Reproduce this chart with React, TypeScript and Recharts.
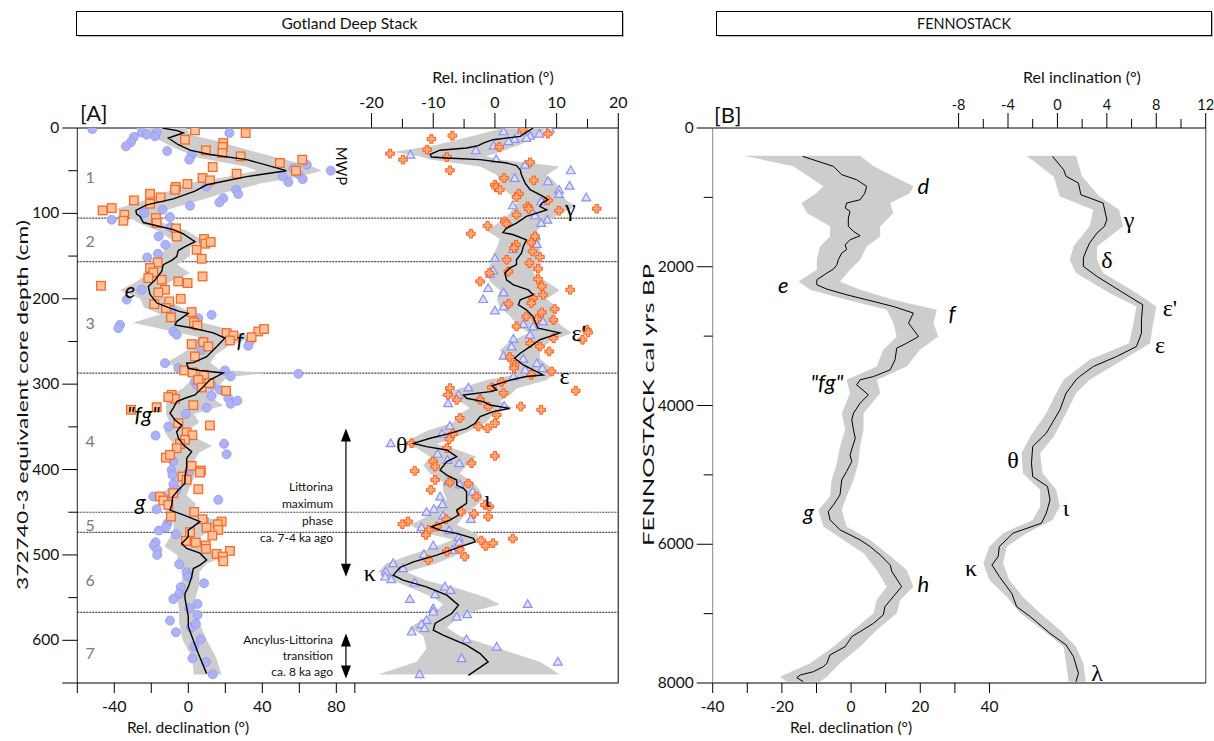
import { ReferenceDot, ReferenceLine, Scatter, ScatterChart, XAxis, YAxis } from "recharts";

// ---- Gotland Deep Stack (panel A): [depth cm, value] ----
const gotlandDecCurve: [number, number][] = [
	[0, -14], [3, -6], [5.9, -2.7], [11.7, -10.8], [19.6, -5.4], [26, 0.9], [31, 11.7], [37, 31.6], [50, 53], [57, 31.6],
	[66.5, 9.9], [74, 3.6], [83, -8.1], [90, -22.5], [96.5, -28.3], [100.5, -28], [104, -26], [110.7, -24.3], [114.5, -17],
	[119, -8.1], [124, -2.7], [133, 3.6], [139, -1.8], [143.5, -5.4], [150.5, -6.3], [155, -9], [160, -13.5], [168, -14.4],
	[178, -18], [185.7, -21.6], [195, -20.7], [205, -17], [211, -9.9], [215, -4.5], [217, 0], [226.7, -6.3], [230.6, -7.2],
	[234.5, 2.7], [240, 13.5], [246, 19.8], [256, 15.4], [267.8, 9.9], [274.8, 2.7], [275.5, -0.9], [281.4, 0], [284, 6.3],
	[287, 18.9], [291, 15.4], [295, 11.7], [303, 8.1], [312.7, 3.6], [316.5, -1.8], [320.5, -6.3], [328, -8.1], [334, -9.9],
	[342, -7.2], [348, -3.6], [355.7, -6.3], [363, -5.4], [371, -2.7], [379, 1.8], [387, -0.9], [396.7, -0.9], [408, -1.8],
	[416, -1.8], [424, -5.4], [432, -8.5], [441.6, -9], [447.5, -9.9], [453, -2.7], [461, 6.3], [471, 0], [478.8, 0],
	[486.5, -3.6], [492.4, -0.9], [498, 6.3], [506, 9.9], [512, 6.3], [516, 2.7], [525.7, 1.8], [537.4, 0], [545, -1.8],
	[551, -1.8], [561, -0.9], [572.6, 0], [584, 0], [600, 2.7], [615.5, 5.4], [639, 9.9],
];

// [depth, low, high]
const gotlandDecBand: [number, number, number][] = [
	[0, -28, -1], [8, -24, 1], [15, -15, 15], [25, -6, 31], [35, 6, 49], [45, 31, 67], [50, 37, 72], [57, 21, 60], [65, -1, 39],
	[75, -12, 21], [85, -24, 6], [95, -39, -10], [102, -33, -19], [110, -28, -15], [120, -17, -1], [132, -8, 8], [140, -12, 1],
	[150, -15, 1], [160, -22, -6], [170, -22, 1], [180, -28, -10], [190, -37, -15], [200, -26, -13], [210, -24, -4], [218, -15, 3],
	[228, -30, 8], [235, -15, 21], [245, 6, 35], [255, 3, 22], [265, -4, 15], [275, -12, 12], [283, -3, 17], [287, -1, 42],
	[292, 3, 21], [305, -3, 15], [315, -12, 12], [325, -12, 19], [335, -12, 3], [345, -10, 6], [355, -13, -1], [365, -10, 6],
	[372, -6, 13], [380, -8, 6], [390, -8, 3], [400, -6, 4], [410, -8, 3], [420, -10, 1], [430, -15, -1], [440, -13, 4],
	[450, -12, 3], [460, -8, 15], [470, -8, 13], [480, -10, 6], [490, -13, 3], [500, -6, 22], [510, -6, 10], [520, -3, 6],
	[535, -4, 6], [550, -6, 4], [565, -5, 4], [580, -5, 6], [600, -3, 10], [620, 2, 15], [640, 3, 18],
];

const gotlandDecCircles: [number, number][] = [
	[1.2, -51.9], [5.1, -25.2], [7.8, -22.5], [5.1, -17.1], [9.8, -18], [10.5, -29.4], [16.4, -31], [21.5, -33.7], [27, -11.4],
	[31.6, 1.8], [37.1, 0.5], [5.9, 22.2], [47.3, 56.8], [43, 64], [53.9, 59.5], [59.8, 61.8], [63.3, 54.1], [56.6, 51], [50, 77],
	[68.4, 9.9], [72.3, 25.8], [77.3, 27], [82.4, 18.9], [87.1, 16.8], [91, 0.9], [95.7, -13.9], [99.6, -23.8], [107.4, -41.4],
	[104.3, -9.9], [127, -16], [116, -9.5], [136.7, -12.4], [147.3, -16.4], [151.6, -22.2], [189.5, -25.2], [201, -33.3],
	[213, -9], [218.8, 12.6], [222.7, 5.4], [230.5, -36.9], [234.4, -37.8], [238.3, -8.1], [242.2, -6.3], [250, 7.2],
	[259.8, 7.2], [250, 33.3], [255, 32.4], [275.4, -12.6], [281.2, -5.4], [284, 19.8], [291, 22.9], [287.9, 59.5], [296.9, 3.6],
	[300.8, 4.5], [300.8, 12.6], [306.6, 17.1], [313.7, 12.6], [316.4, 21.6], [323, 22.9], [319.5, 26.5], [327.7, 9.9],
	[334.8, -1.3], [360.2, -17.7], [349.6, -10.8], [369.9, 19.3], [382, 20.7], [390.6, -8.1], [400.4, -9], [404.3, 0],
	[406.3, -8.6], [417.2, -8.1], [423.8, -6.3], [431.6, -18.9], [435.5, 16.2], [433.6, -12.6], [446.5, -17.1], [462.9, -11.2],
	[467.6, -12.1], [471.5, -15.9], [458.9, 8.5], [475.8, -6.7], [485.2, -17.7], [489, -18.6], [494.1, -16.8], [500, -16.8],
	[510.9, -4.9], [520.3, -0.9], [525.4, 0], [533.2, 8.5], [537.9, -4.1], [545.7, -5], [551.6, -8.1], [557.4, 5], [562.5, 0.5],
	[570.3, 5], [576.9, -9.9], [585.2, 1.4], [590.6, -6.7], [580.9, 4.1], [598.8, 6.7], [607.4, 3.2], [621.1, 2.2], [625.4, 9.5],
	[639.8, 13.2],
];

const gotlandDecSquares: [number, number][] = [
	[2.7, 3.6], [5.9, 31], [13.7, -1.8], [17.6, 18.9], [22.3, 18.6], [26.2, 9.5], [29.3, 18.4], [33.2, 28.3], [45.7, 13.2],
	[53.5, 26.1], [41, 49.5], [37.1, 61.6], [50, 58.2], [58.6, 7.7], [61.3, 11.7], [65.6, -0.5], [69.1, -6.7], [72.3, -7.2],
	[81.3, -15], [77, -20.7], [88.7, -20.7], [84.8, -29.4], [93.8, -41.4], [96.5, -46.3], [101.6, -34.6], [108.6, -35.1],
	[105.5, -17.5], [111.3, -17.1], [117.6, -6.7], [127, -6.3], [130, 8.5], [135.5, 9.2], [133.6, 12.1], [142.6, 4.5],
	[153.1, 7.2], [157.4, -16.6], [164, -20.7], [169.1, -18.9], [175.8, -21.6], [177.7, -14.4], [189.5, -12.6], [179.7, -5.4],
	[181.6, -0.4], [173.8, 7.7], [184.8, -47.2], [192.6, -16.2], [206.2, -18.4], [203.1, -10.3], [200, -4.1], [210.9, -12.1],
	[215.6, 1.8], [221.9, -9.4], [227.7, 3.1], [231.3, 4.9], [238.3, 37.8], [235.5, 40.9], [245, 34.2], [240.2, 20.7],
	[243, 24.3], [248.8, 22.5], [253.1, 1.8], [250.8, 8.1], [255.9, 10.8], [267.6, 3.6], [284, -2.3], [286.3, 2.3], [289.1, 8.5],
	[294.9, 5.4], [303.9, 7.2], [298.8, 11.4], [307.8, 20.4], [312.5, -9], [317.2, -7.2], [315.2, -10.8], [327, -17.1],
	[330, -31], [324.6, 2.7], [348.4, 11.7], [345.7, -5.4], [356.6, -0.9], [359.8, 2.2], [365.2, -1.8], [370, -4.5], [375, -6.3],
	[386, -12.1], [382.8, -9.9], [395.7, 1.8], [401.2, 6.8], [403.5, 6.3], [408.2, -3.2], [412.1, -0.9], [423, 5.4],
	[427.7, -8.1], [431.6, -15.3], [436.3, -13.5], [441.4, -10.8], [455.1, -9.4], [449.6, 3.2], [458.2, 7.7], [460.9, 18],
	[464.1, 15.9], [468, 9.9], [470.7, 16.2], [477.3, 13], [473.4, 0.9], [483.6, -1.3], [485.5, 4.1], [489, 9.4], [492.9, 9.5],
	[498.8, 15.3], [495.3, 22.5], [501.9, 18.6], [507.4, 18.9],
];

const gotlandIncCurve: [number, number][] = [
	[0, 6.2], [9.8, 4.1], [13.7, -0.3], [17.6, -1.9], [20.7, -2.7], [23.4, -4.6], [26, -8.9], [31, -10.5], [34, -10.3],
	[35.2, -7.8], [37, -2.4], [41, 1.9], [44, 3.5], [49, 4.1], [54.7, 4.3], [64.5, 4.9], [72.3, 5.7], [80, 7.8], [84, 8.6],
	[88, 7.6], [92, 7.3], [95.8, 8.4], [99.6, 6.8], [103.6, 5.1], [111.4, 3.5], [117.2, 1.9], [122.4, 1.3], [125, 3], [131, 5.1],
	[138.8, 4.6], [146.5, 4.3], [154.4, 3.5], [160, 3.5], [164, 2.4], [170, 1.6], [178, 1.9], [183.7, 3], [189.6, 5.4],
	[195.4, 6.2], [201.3, 4.1], [207, 3.8], [213, 5.1], [220.8, 6.2], [226.7, 6.5], [234.5, 7], [240, 10.5], [244, 8.9],
	[248, 7.3], [256, 5.7], [263.8, 4.1], [269.6, 3.2], [277.5, 4.6], [283.4, 6.2], [289.2, 7.8], [291, 5.1], [294.3, 3],
	[299, 0.8], [302, -0.5], [306.8, 0.3], [308.8, -0.8], [312.7, -5.1], [316.5, -4.6], [320.5, -1.9], [324.4, -0.8],
	[328.3, 2.4], [332.2, -0.3], [338, -2.4], [345.8, -3.2], [351.7, -4.6], [357.6, -7.3], [363.4, -10.5], [369.3, -13.2],
	[373.2, -11.1], [377.1, -7.8], [385, -6.2], [390.8, -7.8], [400.6, -8.9], [406.5, -7.8], [412.3, -6.2], [418.2, -6.2],
	[422, -5.1], [426, -4.6], [431.9, -4.6], [439.6, -4.6], [447.5, -6.2], [453.3, -5.9], [459.2, -7.3], [467, -10.3],
	[470.9, -8.9], [474.8, -6.2], [480.7, -3.5], [484.6, -3.2], [490.5, -5.7], [500.2, -9.4], [508.1, -13.2], [514.7, -15.4],
	[523.7, -16.5], [529.5, -14.9], [537.4, -11.1], [547.1, -7.8], [558.8, -5.9], [568.6, -7], [580.3, -9.7], [588.2, -10],
	[594, -8.4], [605.7, -4.6], [615.5, -2.4], [625.3, -1.1], [641, -4.3],
];

const gotlandIncBand: [number, number, number][] = [
	[0, 1.4, 8.4], [10, -4, 6.8], [20, -9.5, 4], [28, -16.5, 0.8], [33, -12.2, -1.4], [37, -10.5, 0.8], [45, -2.4, 10.5],
	[55, 0.3, 8.4], [65, 0.8, 10], [75, 1.9, 10.5], [85, 4, 11.6], [92, 3, 13.2], [100, 2.4, 10.5], [110, 0.8, 8.4],
	[120, -1.4, 6.8], [130, 0.8, 7.3], [140, 0.3, 7.3], [150, -0.3, 7.3], [160, -0.8, 7.6], [170, -1.4, 6.2], [180, -0.8, 8.4],
	[190, 0.8, 10.5], [200, 0.3, 8.4], [210, 0.8, 10], [220, 2.4, 9.5], [230, 3.5, 10.5], [240, 5.5, 12.5], [250, 2.4, 8.9],
	[260, 0.8, 7.3], [270, 1.4, 7.3], [280, 3, 8.9], [288, 4, 9.5], [295, -1.4, 8.4], [305, -5.7, 3.5], [313, -8.9, 2.4],
	[320, -5.7, 0.8], [328, -4.1, 3], [335, -5.7, -0.3], [345, -6.8, -1.4], [355, -11.1, -4.1], [365, -13.8, -7.3],
	[370, -14.9, -9.5], [375, -12.7, -6.8], [385, -10.5, -3], [395, -11.6, -4.6], [405, -10.5, -5.7], [415, -8.4, -3.5],
	[425, -8.4, -2.4], [435, -7.8, -1.9], [445, -10, -3.5], [455, -11.1, -5.1], [465, -13.8, -6.2], [475, -11.1, -3],
	[482, -6.8, -2.4], [490, -9.5, -5.1], [500, -13.8, -6.2], [510, -17.6, -9.5], [520, -18.9, -14.3], [530, -16.5, -11.1],
	[540, -13.2, -5.7], [550, -10, -1.4], [558, -8.4, 0.8], [565, -9.5, -3], [575, -11.6, -6.2], [585, -13.8, -7.8],
	[595, -11.6, -5.7], [610, -11.1, 0.8], [625, -12.7, 7.3], [640, -18.9, 10.5],
];

const gotlandIncCrosses: [number, number][] = [
	[2, 4.5], [6.6, 8.6], [9, -6.9], [12.9, -10.3], [25.4, -11], [30, -17], [37.1, -14.9], [34, -7.8], [49.6, -7.3], [22.3, 0.7],
	[40.2, 5.7], [58.6, 1.5], [66.4, 0], [69.5, 0.2], [72.3, 0.8], [77, 3.9], [80.9, 3.5], [61.3, 6.3], [84.8, 8.6], [91.8, 5.3],
	[94.9, 5.5], [101.6, 3.5], [96.9, 10.4], [94.5, 16.5], [109.4, 1.6], [112.1, 1.9], [114.5, -1.2], [123.8, -3.9], [127, 6.5],
	[134, 5.9], [136.7, 3.4], [140.6, 3.1], [144.5, 6.1], [151.2, 7.3], [154.3, 1.9], [158.2, 5.6], [164.8, 7], [168, 2.2],
	[169.9, -0.9], [177, 7], [179.7, -2.4], [185.5, 7.6], [189.5, 12.2], [199.2, 6.2], [195.3, 7.8], [205, 5.9], [205.9, 2.2],
	[216, 7.6], [212.1, 9.7], [220.7, 5.1], [223.8, 6.8], [232.4, 3.5], [224.8, 9.5], [236.3, 14.9], [239.5, 15.1], [248, 14.2],
	[246.1, 9.5], [255.9, 7.3], [261.7, 8.8], [252, 5.7], [268.3, 2.4], [277.3, 3.2], [281.3, 3.1], [285.2, 9.2], [289.1, 5.9],
	[307.8, 13.1], [304.7, -7.3], [312.5, -7.6], [318.4, -6.2], [303.9, -0.5], [297.3, 1.1], [310.5, 1.4], [318.4, -2.4],
	[326.2, -1.1], [326.2, 4.2], [330.1, 7.5], [335.9, 0.3], [339.8, -5.7], [345.7, 0], [351.6, -1.2], [349.6, -2.7],
	[358.2, -6.8], [364.5, -7.4], [369.1, -13.5], [375, -7.8], [384, 0], [392.6, -3.8], [390.6, -10], [396.5, -9.7],
	[401.6, -13], [412.1, -9.7], [415.2, -7.3], [423.8, -10.4], [416.4, -4.3], [431.6, -3], [441.4, -1.6], [443.4, -0.9],
	[455.1, -1.1], [451.9, -3.4], [449.2, -5.5], [458.2, -7.9], [466.8, -9.4], [460.9, -14.1], [464, -15], [470.7, -10.7],
	[476.6, -11.2], [483.2, -2.2], [486.3, -0.3], [489.5, -1.5], [480.9, 2.9], [493.4, -5.7], [496.1, -7.8], [502, -4.9],
	[505.9, -10.8],
];

const gotlandIncTriangles: [number, number][] = [
	[3.9, 1.4], [2, 4.3], [0.8, 8.9], [6.6, 7.2], [9, 5.7], [11.7, 5.1], [12.9, 3.2], [15.6, 2.2], [20.7, -0.2], [26.2, -3.1],
	[31.3, -13.7], [36.3, 0.2], [43, 4.9], [49.6, 12.3], [58.6, 3.2], [62.5, 8.6], [67.6, 12.1], [72.3, 10.4], [77.3, 10.4],
	[81.3, 14.8], [85.9, 7.5], [90.6, 2.9], [102.3, 6.5], [107.4, 8.5], [111.3, 7.5], [126.2, 6.6], [135.9, 6.8], [141.8, 3],
	[152.3, 0], [166.8, -0.3], [170.7, -0.8], [187.5, -1.1], [192.6, 1.4], [200.4, -1.9], [213.7, 0], [209, 1.4], [229.7, 4.6],
	[232.4, 6.2], [226.6, 7.8], [242.2, 5.7], [246.9, 3], [255.9, 2.7], [266.8, 1.4], [270.3, 4.6], [275.4, 6.8], [281.3, 7.7],
	[283.2, 4.9], [291, 3], [304, -4.3], [312.5, -5.9], [322.3, -7.6], [316.4, -2.4], [325.4, 1.5], [348.8, -7.3],
	[358.2, -8.6], [369.1, -16.9], [381.6, -9.3], [388.7, -7.7], [392.6, -5.8], [414, -7.6], [425.8, -3.6], [431.6, -8.9],
	[417.6, -5.7], [440.6, -8.5], [446.1, -9.9], [449.6, -11.1], [454, -8.4], [458, -3.9], [467.6, -11.9], [471.1, -7.4],
	[479.3, -5.9], [485.2, -5.8], [489, -10], [494.1, -6.9], [499.2, -11.5], [509.8, -16.5], [515.6, -14.9], [519.5, -17.7],
	[525.4, -17.8], [528.5, -16.8], [532.4, -13], [537.1, -8.1], [541, -7.2], [546.1, -9.7], [551.6, -13.8], [557.4, 5.3],
	[562.5, -10], [566.4, -10], [569.5, -4.5], [572.3, -6.2], [576.2, -11.1], [581.1, -11.9], [585.9, -11.4], [589.8, -13.5],
	[598.8, -4.6], [607.4, 0.3], [621.1, -5.4], [625, 10.2], [639.8, -12.2],
];

const unitBoundaries = [105.5, 156.4, 287.2, 450, 473.6, 567.4];
const unitNames = ["1", "2", "3", "4", "5", "6", "7"];
const unitCentres = [56.7, 131.8, 227.5, 366, 464, 528.7, 614.8];

// ---- FENNOSTACK (panel B): [age cal yrs BP, value] ----
const fennoDecCurve: [number, number][] = [
	[409, -14], [553, -5.1], [673, -2.7], [745, 1.6], [841, 4.5], [938, 4], [1034, 2.6], [1082, -1.3], [1154, -1.7],
	[1202, -0.3], [1298, -0.8], [1418, -0.8], [1490, 0.7], [1553, 2.6], [1611, -0.3], [1683, -1.7], [1755, -1.3], [1803, -2.7],
	[1899, -3.7], [1971, -4.1], [2034, -5.1], [2091, -7], [2188, -9.9], [2260, -9.9], [2322, -7], [2404, -1.3], [2476, 4.5],
	[2572, 12.2], [2668, 18], [2812, 16.6], [3005, 19.5], [3101, 16.1], [3173, 13.2], [3341, 12.7], [3486, 11.3], [3582, 6.5],
	[3630, 2.6], [3702, 1.6], [3846, 5], [3966, 2.6], [4111, 0.7], [4207, 0.2], [4351, 0.7], [4471, 1.2], [4712, -0.3],
	[4808, 0.2], [4952, -1.3], [5072, -2.7], [5288, -3.2], [5433, -5.1], [5529, -6.6], [5649, -6.1], [5721, -4.6], [5793, -3.2],
	[5865, -0.3], [5938, 2.6], [6034, 5.5], [6154, 8.4], [6298, 11.3], [6394, 11.8], [6611, 14.6], [6755, 12.2], [6899, 9.8],
	[7019, 9.3], [7139, 6.5], [7260, 2.6], [7332, 0.2], [7476, -1.7], [7596, -6.1], [7716, -7], [7764, -8], [7837, -10.9],
	[7885, -14.7], [7923, -15.7], [7981, -13.8],
];

const fennoDecBand: [number, number, number][] = [
	[400, -31, 2.6], [553, -16.7, 6.5], [841, -8, 18], [940, -10, 17], [1082, -14.3, 11.3], [1226, -12.8, 12.2],
	[1418, -6.1, 8.4], [1563, -6.1, 8.4], [1707, -9, 4.5], [1899, -9.9, 2.6], [2043, -9.9, -0.3], [2212, -15.2, -3.2],
	[2332, -11.8, 2.6], [2476, -1.3, 12.2], [2620, 10.3, 24.8], [2812, 12.2, 23.8], [3005, 13.2, 25.2], [3197, 9.3, 19.9],
	[3438, 7.4, 16.1], [3630, -1.3, 7.5], [3822, -0.3, 8.4], [4111, -2.7, 3.6], [4351, -1.7, 3.6], [4591, -3.2, 2.6],
	[4832, -4.1, 2.1], [5072, -5.6, 0.7], [5313, -6.1, -1.3], [5505, -9.4, -2.7], [5745, -8, -1.3], [5938, -2.2, 5.5],
	[6130, 3.6, 10.3], [6370, 7.4, 16.1], [6611, 10.3, 18], [6803, 7.4, 14.2], [6995, 6.5, 13.2], [7236, 0.7, 7.4],
	[7476, -5.1, 2.6], [7716, -11.8, -3.2], [7909, -20.5, -7], [7981, -18.6, -9],
];

const fennoIncCurve: [number, number][] = [
	[409, -0.4], [601, 0.5], [697, 0.7], [793, 1.7], [962, 1.9], [1082, 3.7], [1322, 4], [1418, 3.8], [1514, 3.2], [1659, 2.6],
	[1779, 2.3], [1875, 2.1], [1995, 2.1], [2139, 3.2], [2284, 4.5], [2548, 6.9], [2764, 6.8], [2957, 6.8], [3149, 6.4],
	[3293, 4.8], [3438, 2.9], [3582, 1.8], [3630, 1.5], [3822, 0.7], [4063, 0.2], [4399, -0.9], [4591, -2], [4832, -2.1],
	[5024, -2], [5168, -0.8], [5361, -0.6], [5553, -0.9], [5697, -1.3], [5841, -3.6], [6034, -4.7], [6178, -4.8], [6298, -5.3],
	[6466, -4.7], [6707, -3.7], [6899, -3.3], [7043, -2.2], [7284, -0.6], [7452, 0.7], [7620, 1.3], [7861, 1.7], [7981, 1.5],
];

const fennoIncBand: [number, number, number][] = [
	[400, -2.5, 1.5], [700, -0.3, 2], [986, 0.2, 3.4], [1178, 2.9, 5], [1418, 2.6, 5.3], [1707, 1.3, 3.2], [1899, 1, 3.2],
	[2091, 1.5, 3.7], [2380, 4.2, 6.4], [2572, 6.4, 8], [2861, 6.1, 7.7], [3101, 5.8, 7.5], [3341, 2.6, 5.3], [3630, 0.5, 2.6],
	[3822, -0.1, 1.5], [4111, -0.9, 0.7], [4447, -2.2, -0.3], [4688, -2.9, -1.4], [4976, -2.8, -1.2], [5216, -1.4, -0.1],
	[5457, -1.4, 0.2], [5649, -2, -0.4], [5841, -4.4, -2.5], [6034, -5.5, -4.1], [6274, -6, -4.4], [6514, -5.5, -3.9],
	[6755, -4.1, -2.8], [6995, -3, -1.4], [7236, -1.2, 0.2], [7476, 0.5, 1.5], [7716, 0.7, 2.1], [7981, 0.9, 2.3],
];

// ---- ticks ----
const aDecTicks = [-60, -40, -20, 0, 20, 40, 60, 80, 90];
const aDecLabels = [-40, 0, 40, 80];
const aIncTicks = [-20, -15, -10, -5, 0, 5, 10, 15, 20];
const aIncLabels = [-20, -10, 0, 10, 20];
const aDepthTicks = [0, 50, 100, 150, 200, 250, 300, 350, 400, 450, 500, 550, 600, 650];
const aDepthLabels = [0, 100, 200, 300, 400, 500, 600];
const bDecTicks = [-40, -30, -20, -10, 0, 10, 20, 30, 40];
const bDecLabels = [-40, -20, 0, 20, 40];
const bIncTicks = [-8, -6, -4, -2, 0, 2, 4, 6, 8, 10, 12];
const bIncLabels = [-8, -4, 0, 4, 8, 12];
const bAgeTicks = [0, 1000, 2000, 3000, 4000, 5000, 6000, 7000, 8000];
const bAgeLabels = [0, 2000, 4000, 6000, 8000];

// annotations (value, depth/age)
const aLetters: [string, number, number][] = [["e", -31.5, 188.7], ["f", 28, 248], ['"fg"', -24.3, 334], ["g", -26, 437.7]];
const aGreek: [string, number, number][] = [
	["γ", 12.2, 93.8], ["ε'", 13.6, 240], ["ε", 11.3, 291], ["θ", -15.1, 371], ["ι", -1.2, 434], ["κ", -20.3, 521.7],
];
const bLetters: [string, number, number][] = [
	["d", 20.9, 832], ["e", -19.6, 2260], ["f", 29.2, 2664], ['"fg"', -7, 3654], ["g", -12.3, 5529], ["h", 20.9, 6562],
];
const bGreek: [string, number, number][] = [
	["γ", 5.8, 1322], ["δ", 4, 1899], ["ε'", 9.1, 2596], ["ε", 8.3, 3125], ["θ", -3.6, 4784], ["ι", 0.7, 5480],
	["κ", -7, 6345], ["λ", 3.2, 7860],
];

const BAND = "#cdcdcd";
const FONT = "Lato, 'Open Sans', sans-serif";
const SERIF = "'Liberation Serif', 'DejaVu Serif', serif";

const rows = (pts: [number, number][]) => pts.map(([y, x]) => ({ x, y }));
const bandRows = (band: [number, number, number][]) => [
	...band.map(([y, lo]) => ({ x: lo, y })),
	...band
		.slice()
		.reverse()
		.map(([y, , hi]) => ({ x: hi, y })),
];

const NoShape = () => null;
const Circle = (p: any) => <circle cx={p.cx} cy={p.cy} r={4.5} fill="#adb2f7" stroke="#9198ef" strokeWidth={0.8} />;
const Square = (p: any) => (
	<rect x={p.cx - 4.3} y={p.cy - 4.3} width={8.6} height={8.6} fill="#fdc29b" stroke="#f36b2a" strokeWidth={1.3} />
);
const Cross = (p: any) => {
	const { cx, cy } = p;
	const a = 1.6;
	const b = 4.3;
	const d = `M${cx - a},${cy - b}H${cx + a}V${cy - a}H${cx + b}V${cy + a}H${cx + a}V${cy + b}H${cx - a}V${cy + a}H${cx - b}V${cy - a}H${cx - a}Z`;
	return <path d={d} fill="#ffa877" stroke="#ff5e1c" strokeWidth={1} />;
};
const Triangle = (p: any) => {
	const { cx, cy } = p;
	return (
		<path
			d={`M${cx},${cy - 4.3}L${cx + 4.4},${cy + 3.4}L${cx - 4.4},${cy + 3.4}Z`}
			fill="#dcdffd"
			stroke="#8a91f1"
			strokeWidth={1.2}
		/>
	);
};

type TickCfg = {
	side: "top" | "bottom" | "left";
	major: number[];
	labels: number[];
	majorLen: number;
	minorLen: number;
	gap: number;
	size: number;
};
const makeTick = (c: TickCfg) => (p: any) => {
	const v = p.payload.value;
	const len = c.major.includes(v) ? c.majorLen : c.minorLen;
	const show = c.labels.includes(v);
	if (c.side === "left") {
		return (
			<g>
				<line x1={p.x - len} x2={p.x} y1={p.y} y2={p.y} stroke="#000" strokeWidth={1} />
				{show && (
					<text x={p.x - c.gap} y={p.y + 5} textAnchor="end" fontSize={c.size} fill="#111" style={{ fontFamily: FONT }}>
						{String(v)}
					</text>
				)}
			</g>
		);
	}
	const dir = c.side === "top" ? -1 : 1;
	return (
		<g>
			<line x1={p.x} x2={p.x} y1={p.y} y2={p.y + dir * len} stroke="#000" strokeWidth={1} />
			{show && (
				<text x={p.x} y={p.y + dir * c.gap} textAnchor="middle" fontSize={c.size} fill="#111" style={{ fontFamily: FONT }}>
					{String(v)}
				</text>
			)}
		</g>
	);
};

const textShape = (t: string, size: number, family: string, italic: boolean, fill = "#000") => (p: any) => (
	<text
		x={p.cx}
		y={p.cy}
		textAnchor="middle"
		dominantBaseline="central"
		fontSize={size}
		fill={fill}
		style={{ fontFamily: family, fontStyle: italic ? "italic" : "normal" }}>
		{t}
	</text>
);

const arrowHead = (up: boolean) => (p: any) => {
	const { cx, cy } = p;
	const h = up ? 13 : -13;
	return <path d={`M${cx},${cy}L${cx + 5},${cy + h}L${cx - 5},${cy + h}Z`} fill="#000" />;
};

const GotlandPanel = () => (
	<ScatterChart width={640} height={741} margin={{ top: 127, right: 21.7, bottom: 57, left: 76.3 }}>
		<XAxis
			xAxisId="dec"
			type="number"
			dataKey="x"
			orientation="bottom"
			domain={[-60, 232.4]}
			allowDataOverflow
			ticks={aDecTicks}
			interval={0}
			height={1}
			tickSize={0}
			tickMargin={0}
			axisLine={{ stroke: "#000" }}
			tick={makeTick({ side: "bottom", major: aDecTicks, labels: aDecLabels, majorLen: 10, minorLen: 10, gap: 29, size: 16 })}
		/>
		<XAxis
			xAxisId="inc"
			type="number"
			dataKey="x"
			orientation="top"
			domain={[-67.7, 20]}
			allowDataOverflow
			ticks={aIncTicks}
			interval={0}
			height={1}
			tickSize={0}
			tickMargin={0}
			axisLine={{ stroke: "#000" }}
			tick={makeTick({ side: "top", major: aIncLabels, labels: aIncLabels, majorLen: 15, minorLen: 9, gap: 20.5, size: 16 })}
		/>
		<YAxis
			yAxisId="d"
			type="number"
			dataKey="y"
			domain={[0, 650]}
			reversed
			allowDataOverflow
			ticks={aDepthTicks}
			interval={0}
			width={1}
			tickSize={0}
			tickMargin={0}
			axisLine={{ stroke: "#222" }}
			tick={makeTick({
				side: "left",
				major: [...aDepthLabels, 650],
				labels: aDepthLabels,
				majorLen: 15,
				minorLen: 9,
				gap: 18,
				size: 15.5,
			})}
		/>
		<Scatter xAxisId="dec" yAxisId="d" data={bandRows(gotlandDecBand)} shape={NoShape} line={{ fill: BAND, stroke: "none" }} lineType="joint" isAnimationActive={false} />
		<Scatter xAxisId="inc" yAxisId="d" data={bandRows(gotlandIncBand)} shape={NoShape} line={{ fill: BAND, stroke: "none" }} lineType="joint" isAnimationActive={false} />
		{unitBoundaries.map((d) => (
			<ReferenceLine key={d} xAxisId="dec" yAxisId="d" y={d} stroke="#4a4a4a" strokeWidth={1.2} strokeDasharray="2 1" />
		))}
		<ReferenceLine xAxisId="inc" yAxisId="d" x={20} stroke="#555" strokeWidth={1.5} />
		<Scatter xAxisId="dec" yAxisId="d" data={rows(gotlandDecCircles)} shape={Circle} isAnimationActive={false} />
		<Scatter xAxisId="dec" yAxisId="d" data={rows(gotlandDecSquares)} shape={Square} isAnimationActive={false} />
		<Scatter xAxisId="inc" yAxisId="d" data={rows(gotlandIncTriangles)} shape={Triangle} isAnimationActive={false} />
		<Scatter xAxisId="inc" yAxisId="d" data={rows(gotlandIncCrosses)} shape={Cross} isAnimationActive={false} />
		<Scatter xAxisId="dec" yAxisId="d" data={rows(gotlandDecCurve)} shape={NoShape} line={{ stroke: "#000", strokeWidth: 1.4 }} lineType="joint" isAnimationActive={false} />
		<Scatter xAxisId="inc" yAxisId="d" data={rows(gotlandIncCurve)} shape={NoShape} line={{ stroke: "#000", strokeWidth: 1.4 }} lineType="joint" isAnimationActive={false} />
		{unitNames.map((u, i) => (
			<ReferenceDot key={u} xAxisId="dec" yAxisId="d" x={-53} y={unitCentres[i]} r={0} shape={textShape(u, 16, FONT, false, "#7a7a7a")} />
		))}
		{aLetters.map(([t, x, y]) => (
			<ReferenceDot key={t} xAxisId="dec" yAxisId="d" x={x} y={y} r={0} shape={textShape(t, 22, FONT, true)} />
		))}
		{aGreek.map(([t, x, y]) => (
			<ReferenceDot key={t} xAxisId="inc" yAxisId="d" x={x} y={y} r={0} shape={textShape(t, 24, SERIF, false)} />
		))}
		<ReferenceLine xAxisId="dec" yAxisId="d" segment={[{ x: 85.2, y: 360 }, { x: 85.2, y: 518 }]} stroke="#000" strokeWidth={1.2} />
		<ReferenceDot xAxisId="dec" yAxisId="d" x={85.2} y={351.8} r={0} shape={arrowHead(true)} />
		<ReferenceDot xAxisId="dec" yAxisId="d" x={85.2} y={525.7} r={0} shape={arrowHead(false)} />
		<ReferenceLine xAxisId="dec" yAxisId="d" segment={[{ x: 85.2, y: 600 }, { x: 85.2, y: 637 }]} stroke="#000" strokeWidth={1.2} />
		<ReferenceDot xAxisId="dec" yAxisId="d" x={85.2} y={592} r={0} shape={arrowHead(true)} />
		<ReferenceDot xAxisId="dec" yAxisId="d" x={85.2} y={644.8} r={0} shape={arrowHead(false)} />
	</ScatterChart>
);

const FennoPanel = () => (
	<ScatterChart width={574} height={741} margin={{ top: 127, right: 8.3, bottom: 57, left: 71.7 }}>
		<XAxis
			xAxisId="dec"
			type="number"
			dataKey="x"
			orientation="bottom"
			domain={[-40, 102.5]}
			allowDataOverflow
			ticks={bDecTicks}
			interval={0}
			height={1}
			tickSize={0}
			tickMargin={0}
			axisLine={{ stroke: "#000" }}
			tick={makeTick({ side: "bottom", major: bDecTicks, labels: bDecLabels, majorLen: 10, minorLen: 10, gap: 29, size: 15.5 })}
		/>
		<XAxis
			xAxisId="inc"
			type="number"
			dataKey="x"
			orientation="top"
			domain={[-27.9, 12]}
			allowDataOverflow
			ticks={bIncTicks}
			interval={0}
			height={1}
			tickSize={0}
			tickMargin={0}
			axisLine={{ stroke: "#000" }}
			tick={makeTick({ side: "top", major: bIncLabels, labels: bIncLabels, majorLen: 15, minorLen: 9, gap: 18, size: 14.5 })}
		/>
		<YAxis
			yAxisId="a"
			type="number"
			dataKey="y"
			domain={[0, 8000]}
			reversed
			allowDataOverflow
			ticks={bAgeTicks}
			interval={0}
			width={1}
			tickSize={0}
			tickMargin={0}
			axisLine={{ stroke: "#888" }}
			tick={makeTick({ side: "left", major: bAgeLabels, labels: bAgeLabels, majorLen: 16, minorLen: 9, gap: 19, size: 15.5 })}
		/>
		<ReferenceLine xAxisId="inc" yAxisId="a" x={12} stroke="#777" strokeWidth={1.5} />
		<Scatter xAxisId="dec" yAxisId="a" data={bandRows(fennoDecBand)} shape={NoShape} line={{ fill: BAND, stroke: "none" }} lineType="joint" isAnimationActive={false} />
		<Scatter xAxisId="inc" yAxisId="a" data={bandRows(fennoIncBand)} shape={NoShape} line={{ fill: BAND, stroke: "none" }} lineType="joint" isAnimationActive={false} />
		<Scatter xAxisId="dec" yAxisId="a" data={rows(fennoDecCurve)} shape={NoShape} line={{ stroke: "#000", strokeWidth: 1 }} lineType="joint" isAnimationActive={false} />
		<Scatter xAxisId="inc" yAxisId="a" data={rows(fennoIncCurve)} shape={NoShape} line={{ stroke: "#000", strokeWidth: 1 }} lineType="joint" isAnimationActive={false} />
		{bLetters.map(([t, x, y]) => (
			<ReferenceDot key={t} xAxisId="dec" yAxisId="a" x={x} y={y} r={0} shape={textShape(t, 22, FONT, true)} />
		))}
		{bGreek.map(([t, x, y]) => (
			<ReferenceDot key={t} xAxisId="inc" yAxisId="a" x={x} y={y} r={0} shape={textShape(t, 24, SERIF, false)} />
		))}
	</ScatterChart>
);

const TitleBox = ({ x, w, label, len }: { x: number; w: number; label: string; len: number }) => (
	<g>
		<rect x={x + 1.5} y={13} width={w} height={24} fill="#bbb" />
		<rect x={x} y={11.5} width={w} height={24} fill="#fff" stroke="#000" strokeWidth={1} />
		<text x={x + w / 2} y={29} textAnchor="middle" fontSize={15} textLength={len} lengthAdjust="spacingAndGlyphs">
			{label}
		</text>
	</g>
);

export default function App() {
	return (
		<div
			style={{
				position: "absolute",
				left: 0,
				top: 0,
				width: 1214,
				height: 741,
				overflow: "hidden",
				background: "#fff",
				fontFamily: FONT,
			}}>
			<div style={{ position: "absolute", left: 0, top: 0 }}>
				<GotlandPanel />
			</div>
			<div style={{ position: "absolute", left: 640, top: 0 }}>
				<FennoPanel />
			</div>
			<svg
				width={1214}
				height={741}
				style={{ position: "absolute", left: 0, top: 0, pointerEvents: "none", fontFamily: FONT }}
				fill="#111">
				<TitleBox x={76.5} w={546} label="Gotland Deep Stack" len={136} />
				<TitleBox x={716.5} w={495} label="FENNOSTACK" len={94} />
				<text x={80} y={121} fontSize={22}>[A]</text>
				<text x={714} y={123} fontSize={22}>[B]</text>
				<text x={493} y={83} textAnchor="middle" fontSize={16}>Rel. inclination (°)</text>
				<text x={1082} y={83} textAnchor="middle" fontSize={16}>Rel inclination (°)</text>
				<text x={188} y={733} textAnchor="middle" fontSize={15.5}>Rel. declination (°)</text>
				<text x={851} y={733} textAnchor="middle" fontSize={15.5}>Rel. declination (°)</text>
				<text
					transform="translate(28,405) rotate(-90)"
					textAnchor="middle"
					fontSize={16}
					textLength={370}
					lengthAdjust="spacingAndGlyphs">
					372740-3 equivalent core depth (cm)
				</text>
				<text
					transform="translate(654,405) rotate(-90)"
					textAnchor="middle"
					fontSize={15}
					textLength={282}
					lengthAdjust="spacingAndGlyphs">
					FENNOSTACK cal yrs BP
				</text>
				<text transform="translate(342,166) rotate(90)" textAnchor="middle" dominantBaseline="central" fontSize={15}>
					MWP
				</text>
				<g fontSize={12} textAnchor="end">
					<text x={333} y={491}>Littorina</text>
					<text x={333} y={508}>maximum</text>
					<text x={333} y={525}>phase</text>
					<text x={333} y={542}>ca. 7-4 ka ago</text>
					<text x={333} y={644}>Ancylus-Littorina</text>
					<text x={333} y={660}>transition</text>
					<text x={333} y={676}>ca. 8 ka ago</text>
				</g>
			</svg>
		</div>
	);
}
